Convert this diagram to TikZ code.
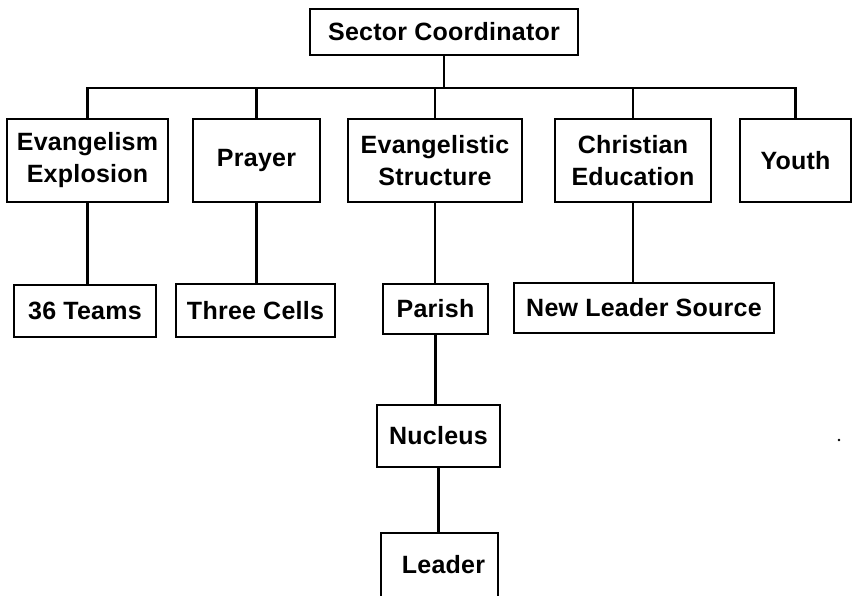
\documentclass[tikz,border=0pt]{standalone}
\usepackage{fontspec}
\newfontfamily\labfont{Liberation Sans}[LetterSpace=1]
\begin{document}
\begin{tikzpicture}[x=1pt,y=-1pt,
  box/.style={draw=black,line width=2.5pt,inner sep=0pt,align=center,
    font=\labfont\bfseries\fontsize{25}{32}\selectfont},
  link/.style={draw=black,line width=2.5pt}]
\useasboundingbox (0,0) rectangle (854,595);
\clip (0,0) rectangle (854,595);
% top
\node[box,minimum width=268pt,minimum height=46pt] (sc) at (444,32) {Sector Coordinator};
% second row
\node[box,minimum width=161pt,minimum height=83pt] (ee) at (87.5,160.5) {Evangelism\\Explosion};
\node[box,minimum width=127pt,minimum height=83pt] (pr) at (256.5,160.5) {Prayer};
\node[box,minimum width=174pt,minimum height=83pt] (es) at (435,160.5) {Evangelistic\\Structure};
\node[box,minimum width=156pt,minimum height=83pt] (ce) at (633,160.5) {Christian\\Education};
\node[box,minimum width=111pt,minimum height=83pt] (yo) at (795.5,160.5) {Youth};
% third row
\node[box,minimum width=142pt,minimum height=52pt] (t36) at (85,311) {36 Teams};
\node[box,minimum width=159pt,minimum height=53pt] (tc) at (255.5,310.5) {Three Cells};
\node[box,minimum width=105pt,minimum height=50pt] (pa) at (435.5,309) {Parish};
\node[box,minimum width=260pt,minimum height=50pt] (nls) at (644,308) {New Leader Source};
% lower chain
\node[box,minimum width=123pt,minimum height=62pt] (nu) at (438.5,436) {Nucleus};
\node[box,minimum width=117pt,minimum height=80pt] (le) at (439.5,573) {};
\node[font=\labfont\bfseries\fontsize{25}{32}\selectfont,anchor=base,inner sep=0pt] (lt) at (443.5,573) {Leader};
% connectors
\coordinate (bus) at (0,88);
\draw[link] (sc.south) -- (sc.south |- bus);
\draw[link] (ee.north) |- (bus -| yo.north) -- (yo.north);
\draw[link] (pr.north) -- (pr.north |- bus);
\draw[link] (es.north) -- (es.north |- bus);
\draw[link] (ce.north) -- (ce.north |- bus);
\draw[link] (ee.south) -- (ee.south |- t36.north);
\draw[link] (pr.south) -- (pr.south |- tc.north);
\draw[link] (es.south) -- (es.south |- pa.north);
\draw[link] (ce.south) -- (ce.south |- nls.north);
\draw[link] (pa.south) -- (pa.south |- nu.north);
\draw[link] (nu.south) -- (nu.south |- le.north);
% stray dot
\fill (839,440) circle (1.3pt);
\end{tikzpicture}
\end{document}
